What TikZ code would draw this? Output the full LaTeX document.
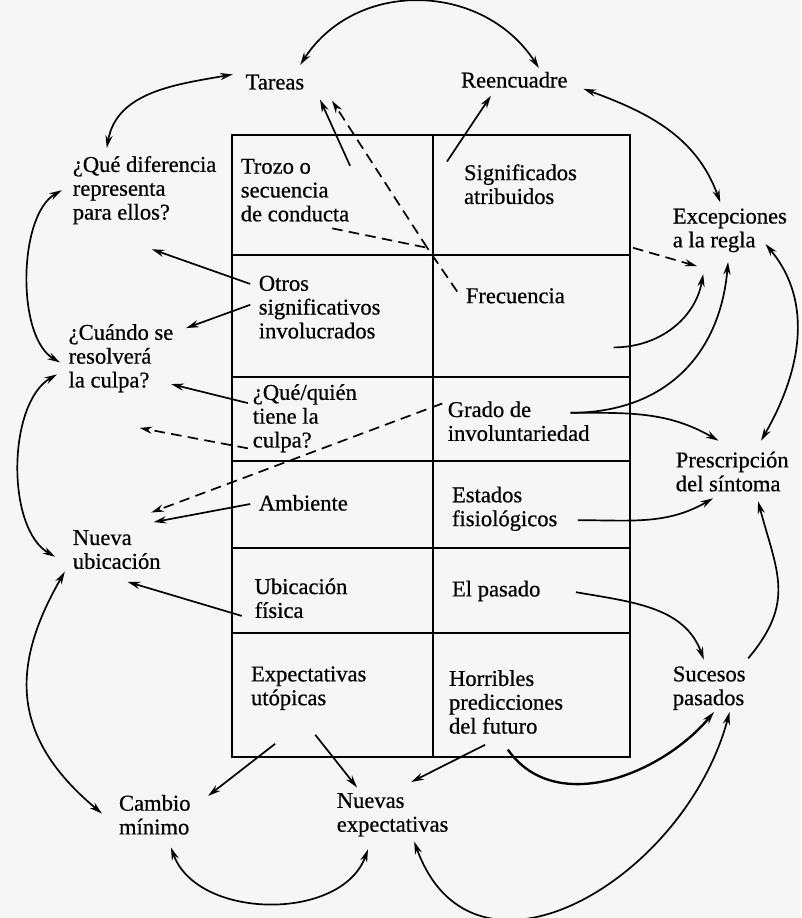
\documentclass[tikz,border=0pt]{standalone}
\usepackage{fontspec}
\setmainfont{Liberation Serif}[FakeBold=0.6]
\usetikzlibrary{arrows.meta}

\begin{document}
\begin{tikzpicture}[
  >={Stealth[length=6pt,width=3.4pt]},
  line width=0.8pt,
  every node/.style={inner sep=0pt, anchor=west, align=left, font=\fontsize{10.7}{11.3}\selectfont},
  guion/.style={dash pattern=on 5pt off 3pt}
]
%\draw[step=1cm,gray,very thin] (0,0) grid (13,15);
\useasboundingbox (0,0) rectangle (13.35,15.3);
\fill[gray!7] (0,0) rectangle (13.35,15.3);

% cuadro
\draw (3.87,2.68) rectangle (10.5,13.05);
\draw (7.22,2.68) -- (7.22,13.05);
\draw (3.87,11.05) -- (10.5,11.05) (3.87,9.02) -- (10.5,9.02) (3.87,7.62) -- (10.5,7.62)
      (3.87,6.17) -- (10.5,6.17) (3.87,4.75) -- (10.5,4.75);

% celdas izquierda
\node (trozo) at (4.00,12.13) {Trozo o\\secuencia\\de conducta};
\node (otros) at (4.30,10.18) {Otros\\significativos\\involucrados};
\node (quien) at (4.20,8.33) {¿Qué/quién\\tiene la\\culpa?};
\node (ambiente) at (4.30,6.92) {Ambiente};
\node (ubic) at (4.23,5.33) {Ubicación\\física};
\node (utop) at (4.17,3.83) {Expectativas\\utópicas};

% celdas derecha
\node (signif) at (7.72,12.23) {Significados\\atribuidos};
\node (frec) at (7.75,10.37) {Frecuencia};
\node (grado) at (7.45,8.28) {Grado de\\involuntariedad};
\node (estados) at (7.52,6.82) {Estados\\fisiológicos};
\node (pasado) at (7.52,5.45) {El pasado};
\node (horrib) at (7.47,3.60) {Horribles\\predicciones\\del futuro};

% alrededor
\node (tareas) at (4.08,13.93) {Tareas};
\node (reenc) at (7.67,13.97) {Reencuadre};
\node (difer) at (1.20,12.13) {¿Qué diferencia\\representa\\para ellos?};
\node (excep) at (11.20,11.46) {Excepciones\\a la regla};
\node (cuando) at (1.13,9.33) {¿Cuándo se\\resolverá\\la culpa?};
\node (prescr) at (11.25,7.44) {Prescripción\\del síntoma};
\node (nueva) at (1.20,6.14) {Nueva\\ubicación};
\node (sucesos) at (11.20,3.83) {Sucesos\\pasados};
\node (cambio) at (1.97,1.72) {Cambio\\mínimo};
\node (nuevexp) at (5.60,1.72) {Nuevas\\expectativas};

\coordinate (cruce) at (7.12,11.17);
\coordinate (borde) at (10.55,11.17);

% anillo
\draw[<->] ([shift={(0.58,0.12)}]difer.north west) to[out=80,in=190] ([shift={(-0.2,0.13)}]tareas.west);
\draw[<->] ([shift={(-0.08,0.15)}]tareas.north east) to[out=57,in=123,looseness=1.1] ([shift={(0.41,0.05)}]reenc.north);
\draw[<->] ([shift={(0.25,-0.15)}]reenc.east) to[out=-20,in=110] ([shift={(-0.16,0.09)}]excep.north);
\draw[<->] ([shift={(-0.37,0.15)}]excep.south east) to[out=-50,in=60] ([shift={(0.48,0.17)}]prescr.north);
\draw[->] ([shift={(0.03,0.12)}]sucesos.north east) to[out=50,in=-75,looseness=1.2] ([shift={(0.43,-0.15)}]prescr.south);
\draw[<->] ([shift={(0.34,-0.02)}]sucesos.south) to[out=-105,in=-70,looseness=1.3] ([shift={(0.36,-0.07)}]nuevexp.south);
\draw[<->] ([shift={(-0.41,-0.2)}]nuevexp.south) to[out=-110,in=-70] ([shift={(0.27,-0.2)}]cambio.south);
\draw[<->] ([shift={(-0.27,0.02)}]cambio.west) to[out=140,in=240,looseness=1.2] ([shift={(-0.12,-0.03)}]nueva.south west);
\draw[<->] ([shift={(-0.28,-0.12)}]nueva.west) to[out=150,in=210,looseness=0.8] ([shift={(-0.18,-0.27)}]cuando.west);
\draw[<->] ([shift={(-0.13,-0.07)}]cuando.west) to[out=150,in=210,looseness=0.75] ([shift={(-0.17,0)}]difer.west);

% desde las celdas
\draw[->] ([shift={(0,-0.13)}]trozo.north east) -- ([shift={(0.25,-0.15)}]tareas.south east);
\draw[guion] ([shift={(0.62,-0.1)}]trozo.south) -- (cruce);
\draw[guion] ([shift={(-0.13,-0.07)}]frec.north west) -- (cruce);
\draw[guion,->] (cruce) -- ([shift={(0.45,-0.17)}]tareas.south east);
\draw[guion,->] (borde) -- ([shift={(0.42,-0.22)}]excep.south west);
\draw[->] ([shift={(-0.27,0.03)}]signif.north west) -- ([shift={(-0.39,-0.12)}]reenc.south);
\draw[->] ([shift={(-0.13,-0.15)}]otros.north west) -- ([shift={(0.12,-0.4)}]difer.south);
\draw[->] ([shift={(-0.13,0.04)}]otros.west) -- ([shift={(0.2,-0.08)}]cuando.north east);
\draw[->] ([shift={(-0.07,-0.33)}]quien.north west) -- ([shift={(-0.05,0.15)}]cuando.south east);
\draw[guion,->] ([shift={(-0.07,0.08)}]quien.south west) -- ([shift={(0.31,-0.58)}]cuando.south);
\draw[guion,->] ([shift={(-0.08,-0.05)}]grado.north west) -- ([shift={(-0.17,0.28)}]nueva.north east);
\draw[->] ([shift={(-0.13,-0.02)}]ambiente.west) -- ([shift={(-0.13,0.12)}]nueva.north east);
\draw[->] ([shift={(-0.2,0.05)}]ubic.south west) -- ([shift={(0.18,-0.2)}]nueva.south);
\draw[->] ([shift={(-0.56,-0.55)}]utop.south) -- ([shift={(0.28,-0.03)}]cambio.north east);
\draw[->] ([shift={(0.11,-0.4)}]utop.south) -- ([shift={(0.35,0.08)}]nuevexp.north west);
\draw[->] ([shift={(-0.35,-0.17)}]horrib.south) -- ([shift={(0.31,0.17)}]nuevexp.north);
\draw[->,line width=1.1pt] ([shift={(0.03,-0.25)}]horrib.south) to[out=-55,in=-130] ([shift={(0.08,-0.02)}]sucesos.south);
\draw[->] ([shift={(0.58,-0.02)}]pasado.east) to[out=-10,in=110] ([shift={(-0.09,0.1)}]sucesos.north);
\draw[->] ([shift={(0.33,-0.19)}]estados.east) to[out=0,in=-150] ([shift={(-0.32,-0.1)}]prescr.south);
\draw[->] ([shift={(-0.33,0.14)}]grado.east) to[out=0,in=150] ([shift={(-0.23,0.17)}]prescr.north);
\draw[->] ([shift={(-0.33,0.14)}]grado.east) to[out=0,in=-95,looseness=1.1] ([shift={(-0.03,-0.15)}]excep.south);
\draw[->] ([shift={(0.8,-0.72)}]frec.south east) to[out=0,in=-100] ([shift={(0.52,-0.35)}]excep.south west);

\end{tikzpicture}
\end{document}
